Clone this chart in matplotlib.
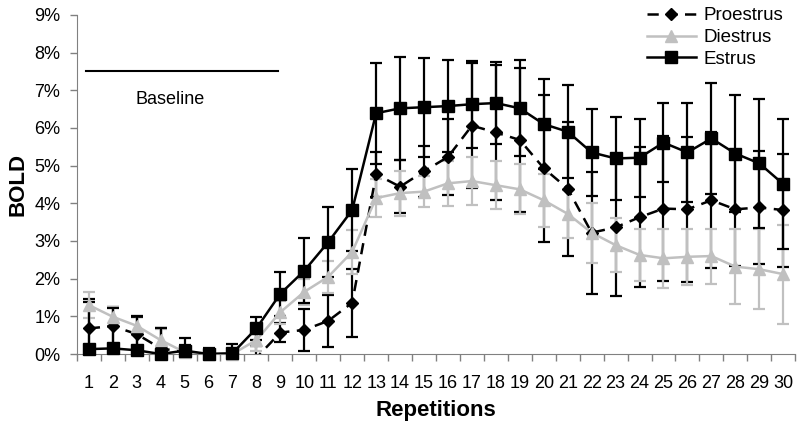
import numpy as np
import matplotlib
matplotlib.use('Agg')
import matplotlib.pyplot as plt
from matplotlib.lines import Line2D
from matplotlib.ticker import PercentFormatter, FixedLocator

plt.rcParams['font.family'] = ['Liberation Sans', 'DejaVu Sans']

reps = np.arange(1, 31)

proestrus = [0.68, 0.74, 0.53, 0.15, 0.05, 0.0, 0.0, -0.1, 0.57, 0.64,
             0.88, 1.36, 4.77, 4.44, 4.85, 5.23, 6.06, 5.88, 5.68, 4.93,
             4.39, 3.22, 3.36, 3.63, 3.86, 3.84, 4.08, 3.84, 3.89, 3.82]
proestrus_err = [0.78, 0.5, 0.45, 0.55, 0.2, 0.12, 0.1, 0.3, 0.26, 0.55,
                 0.69, 0.9, 0.6, 0.7, 0.68, 1.0, 1.65, 1.8, 1.9, 1.95,
                 1.78, 1.62, 1.81, 1.86, 1.92, 1.92, 1.81, 1.5, 1.5, 1.5]

diestrus = [1.3, 0.99, 0.75, 0.37, 0.05, 0.0, 0.0, 0.37, 1.11, 1.65,
            2.05, 2.71, 4.14, 4.27, 4.31, 4.53, 4.59, 4.48, 4.37, 4.08,
            3.72, 3.22, 2.89, 2.63, 2.54, 2.58, 2.6, 2.32, 2.25, 2.12]
diestrus_err = [0.34, 0.25, 0.25, 0.3, 0.1, 0.05, 0.05, 0.3, 0.3, 0.35,
                0.43, 0.58, 0.5, 0.6, 0.42, 0.6, 0.63, 0.64, 0.66, 0.7,
                0.64, 0.8, 0.72, 0.7, 0.79, 0.75, 0.73, 1.0, 1.06, 1.31]

estrus = [0.13, 0.15, 0.1, 0.0, 0.09, 0.0, 0.02, 0.68, 1.6, 2.21,
          2.97, 3.82, 6.39, 6.52, 6.55, 6.58, 6.63, 6.66, 6.52, 6.1,
          5.9, 5.35, 5.19, 5.21, 5.61, 5.35, 5.72, 5.32, 5.06, 4.51]
estrus_err = [1.25, 1.07, 0.9, 0.7, 0.33, 0.15, 0.24, 0.31, 0.58, 0.86,
              0.92, 1.08, 1.34, 1.37, 1.31, 1.23, 1.15, 1.09, 1.27, 1.2,
              1.23, 1.16, 1.1, 1.03, 1.05, 1.31, 1.48, 1.56, 1.71, 1.72]

baseline_span = [0.9, 8.9]
baseline_level = 7.5

GRAY = '#c0c0c0'
series = [
    ('Proestrus', proestrus, proestrus_err, 'black', 'D', 6, (4.5, 3)),
    ('Diestrus', diestrus, diestrus_err, GRAY, '^', 8, None),
    ('Estrus', estrus, estrus_err, 'black', 's', 8, None),
]

fig = plt.figure(figsize=(8, 4.25), dpi=100)
ax = fig.add_axes([0.096, 0.167, 0.898, 0.798])

handles = []
for name, vals, err, col, mk, ms, dash in series:
    vals = np.array(vals)
    ax.errorbar(reps, vals, yerr=err, fmt='none', ecolor=col,
                elinewidth=1.6, capsize=4.5, capthick=1.6, zorder=2)
    ln, = ax.plot(reps, vals, color=col, lw=1.8, zorder=3)
    if dash:
        ln.set_dashes(dash)
    # markers sitting on the axis are not cut in half
    ax.plot(reps, np.where(vals >= 0, vals, np.nan), linestyle='none',
            marker=mk, ms=ms, color=col, clip_on=False, zorder=4)
    h = Line2D([], [], color=col, lw=1.8, marker=mk, ms=ms)
    if dash:
        h.set_dashes(dash)
    handles.append(h)

ax.plot(baseline_span, [baseline_level] * 2, color='black', lw=1.5)
ax.text(4.4, 6.75, 'Baseline', ha='center', va='center', fontsize=13)

ax.set_xlim(0.5, 30.5)
ax.set_ylim(0, 9)
ax.set_yticks(np.arange(0, 10, 1))
ax.yaxis.set_major_formatter(PercentFormatter(xmax=100, decimals=0))
ax.set_xticks(reps)
ax.set_xticklabels([str(r) for r in reps])
ax.xaxis.set_minor_locator(FixedLocator(np.arange(0.5, 31, 1)))
ax.tick_params(axis='x', which='major', length=0, pad=15, labelsize=13)
ax.tick_params(axis='x', which='minor', length=5, width=1, direction='out')
ax.tick_params(axis='y', length=5, width=1, pad=7, labelsize=13)
for s in ['top', 'right']:
    ax.spines[s].set_visible(False)
ax.spines['left'].set_color('#808080')
ax.spines['bottom'].set_color('#808080')
ax.tick_params(colors='#808080', labelcolor='black', which='both')

ax.set_ylabel('BOLD', fontsize=16, fontweight='bold', labelpad=4)
ax.set_xlabel('Repetitions', fontsize=16, fontweight='bold', labelpad=6)

fig.legend(handles, [s[0] for s in series], loc='upper left',
           bbox_to_anchor=(0.797, 1.005), frameon=False, fontsize=13.5,
           handlelength=2.6, handletextpad=0.4, labelspacing=0.25,
           borderpad=0.0)

fig.savefig('out.png', dpi=100)
